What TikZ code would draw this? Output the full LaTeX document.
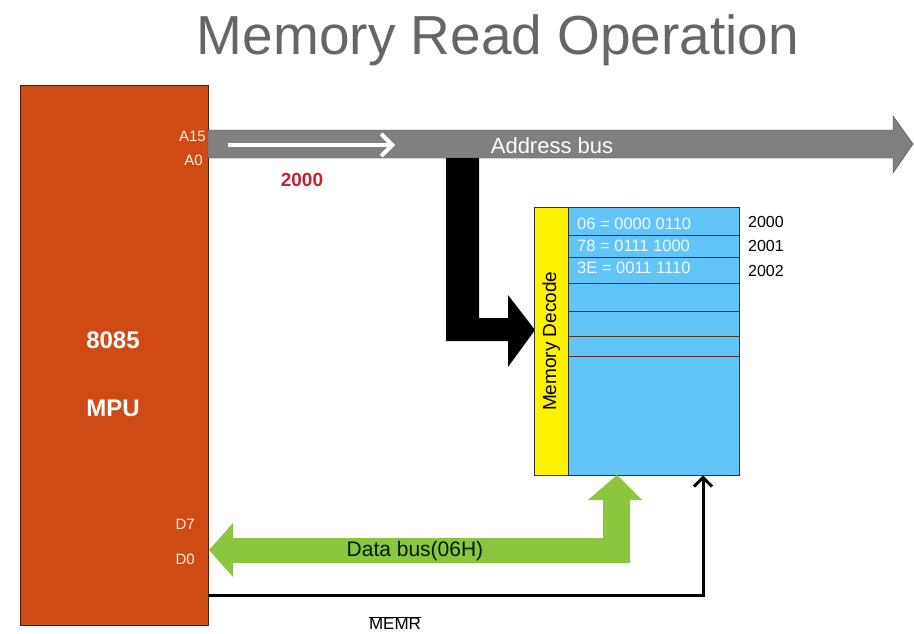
\documentclass[tikz,border=0pt]{standalone}
\usepackage{fontspec}
\setmainfont{Liberation Sans}
\usetikzlibrary{arrows,arrows.meta}

\definecolor{mpuorange}{RGB}{207,74,20}
\definecolor{busgray}{RGB}{128,128,128}
\definecolor{cellblue}{RGB}{99,196,248}
\definecolor{busgreen}{RGB}{140,198,63}
\definecolor{addrred}{RGB}{200,32,45}
\definecolor{titlegray}{RGB}{102,102,102}

\begin{document}
\begin{tikzpicture}[x=1pt, y=-1pt,
		pinlabel/.style={anchor=east, inner sep=0pt, text=white!88!orange, font=\fontsize{15}{17}\selectfont},
		celltext/.style={anchor=west, inner sep=0pt, text=white!90!cellblue, font=\fontsize{16.5}{18}\selectfont},
		addrtext/.style={anchor=west, inner sep=0pt, font=\fontsize{16}{18}\selectfont},
		mputext/.style={text=white, font=\bfseries\fontsize{24}{28}\selectfont}]
	\useasboundingbox (0,0) rectangle (914,634);

	\node[anchor=base, text=titlegray, font=\fontsize{55}{60}\selectfont] (title) at (498,55) {Memory Read Operation};

	%% the processor
	\node[draw=black!60!mpuorange, fill=mpuorange, anchor=north west, minimum width=188pt, minimum height=540pt, inner sep=0pt] (mpu) at (20,85) {};
	\node[mputext] (cpuname) at (113,340) {8085};
	\node[mputext] (cpuword) at (113,408) {MPU};
	\node[pinlabel] (afifteen) at (206,136) {A15};
	\node[pinlabel] (azero) at (203,160) {A0};
	\node[pinlabel] (dseven) at (195,524) {D7};
	\node[pinlabel] (dzero) at (195,559) {D0};

	%% address bus
	\draw[draw=black!75, fill=busgray] (208,130) -- (893,130) -- (893,116) -- (913,144) -- (893,173) -- (893,158) -- (208,158) -- cycle;
	\node[text=white, font=\fontsize{22}{24}\selectfont] (addrbus) at (552,146) {Address bus};
	\coordinate (flowstart) at (228,145);
	\coordinate (flowend) at (395,145);
	\draw[-{Straight Barb[length=11pt,width=22pt]}, white, line width=4pt] (flowstart) -- (flowend);
	\node[text=addrred, font=\bfseries\fontsize{19}{21}\selectfont] (addrvalue) at (302,180) {2000};

	\fill[black] (446,158) -- (479,158) -- (479,318) -- (508,318) -- (508,295) -- (535,330) -- (508,367) -- (508,341) -- (446,341) -- cycle;

	%% memory
	\node[draw=black!80, fill=yellow, anchor=north west, minimum width=34pt, minimum height=268pt, inner sep=0pt] (decode) at (534,207) {};
	\node[rotate=90, font=\fontsize{19}{21}\selectfont] (decodetext) at (decode.center) {Memory Decode};
	\node[draw=black!80, fill=cellblue, anchor=north west, minimum width=171pt, minimum height=268pt, inner sep=0pt] (mem) at (568,207) {};
	\foreach \y in {235,257,283,311,336,356}
		\draw[black!60!brown, thin] (mem.west |- 0,\y) -- (mem.east |- 0,\y);

	\node[celltext] (cellone) at (577,224) {06 = 0000 0110};
	\node[celltext] (celltwo) at (577,246) {78 = 0111 1000};
	\node[celltext] (cellthree) at (577,268) {3E = 0011 1110};
	\node[addrtext] (addrone) at (748,222) {2000};
	\node[addrtext] (addrtwo) at (748,246) {2001};
	\node[addrtext] (addrthree) at (748,271) {2002};

	%% data bus
	\fill[busgreen] (209,550) -- (233,523) -- (233,538) -- (603,538) -- (603,500) -- (588,500) -- (617,475) -- (642,500) -- (630,500) -- (630,563) -- (233,563) -- (233,577) -- cycle;
	\node[text=black!90!green, font=\fontsize{21}{23}\selectfont] (databus) at (415,551) {Data bus(06H)};

	%% read control line
	\coordinate (memrturn) at (703,595);
	\draw[-{Straight Barb[length=9pt,width=18pt]}, line width=3pt] (mpu.east |- memrturn) -| (mem.south -| memrturn);
	\node[font=\fontsize{17}{19}\selectfont] (memr) at (395,623) {$\overline{\hbox{MEMR}}$};
\end{tikzpicture}
\end{document}
